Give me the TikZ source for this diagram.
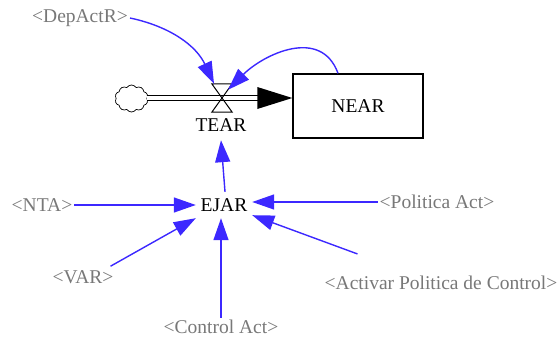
\documentclass[tikz,border=0pt]{standalone}
\usepackage{fontspec}
\setmainfont{Liberation Serif}
\usetikzlibrary{arrows.meta,shapes.symbols}
\definecolor{linkblue}{RGB}{60,40,255}
\definecolor{shadowgray}{RGB}{120,120,120}
\tikzset{
  lbl/.style={inner sep=2pt, text=black, font=\fontsize{19.5}{22}\selectfont},
  shadowvar/.style={lbl, text=shadowgray},
  link/.style={draw=linkblue, line width=1.4pt, -{Triangle[length=22pt,width=15pt]}},
  stock/.style={draw, line width=1.4pt, minimum width=130pt, minimum height=64pt, inner sep=0},
}
\begin{document}
\begin{tikzpicture}[x=1pt,y=1pt]
\useasboundingbox (0,0) rectangle (560,341);

% stock, source cloud and rate valve
\node[stock, lbl] (near) at (358,235) {NEAR};
\node[cloud, cloud puffs=10, cloud puff arc=115, draw, line width=0.7pt,
      minimum width=33pt, minimum height=27pt, inner sep=0, aspect=1.2] (cloud) at (131.5,242.5) {};
\node[minimum width=20pt, minimum height=28pt, inner sep=0] (valve) at (222,243) {};

% pipe with flow arrowhead
\coordinate (pipeend) at (valve.center -| near.west);
\draw[line width=1pt, double distance=4pt] (cloud.east |- valve.center) -- ([xshift=-30pt]pipeend);
\fill ([xshift=-35pt,yshift=11pt]pipeend) -- (pipeend) -- ([xshift=-35pt,yshift=-11pt]pipeend) -- cycle;
\draw[line width=1pt] (valve.north west) -- (valve.north east) -- (valve.south west) -- (valve.south east) -- cycle;

% variables
\node[lbl, minimum height=30pt, inner sep=0] (tear) at (221,216) {TEAR};
\node[lbl, minimum width=56pt, minimum height=26pt, inner sep=0] (ejar) at (224,136) {EJAR};
\node[shadowvar] (dep) at (80,323) {<DepActR>};
\node[shadowvar] (nta) at (42,136) {<NTA>};
\node[shadowvar] (var) at (83,64) {<VAR>};
\node[shadowvar] (ctrl) at (221,14) {<Control Act>};
\node[shadowvar] (pol) at (437,139) {<Politica Act>};
\node[shadowvar] (act) at (441,58) {<Activar Politica de Control>};

% links
\draw[link] (dep.east) to[out=-12, in=115] ([xshift=-8pt]valve.north);
\draw[link] ([xshift=-20pt]near.north) to[out=110, in=45, looseness=1.15] ([xshift=6pt,yshift=-6pt]valve.north);
\draw[link] ([xshift=1pt]ejar.north) -- (tear.south);
\draw[link] (nta.east) -- (ejar.west);
\draw[link] ([xshift=-5pt,yshift=2pt]var.north east) -- (ejar.south west);
\draw[link] (ctrl.north) -- (ctrl.north |- ejar.south);
\draw[link] (pol.west) -- (pol.west -| ejar.east);
\draw[link] ([xshift=35pt,yshift=20pt]act.north west) -- ([yshift=3pt]ejar.south east);
\end{tikzpicture}
\end{document}
